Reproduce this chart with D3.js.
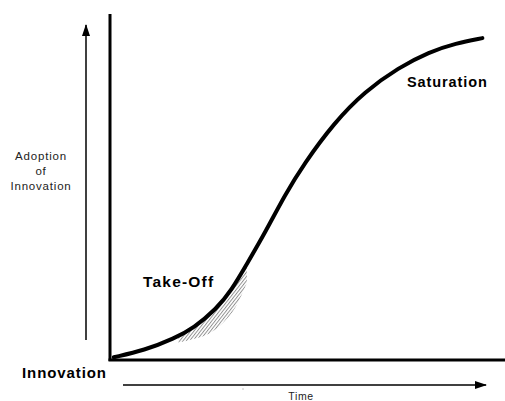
<!DOCTYPE html>
<html>
<head>
<meta charset="utf-8">
<script src="https://cdn.jsdelivr.net/npm/d3@7"></script>
<style>
  html, body { margin: 0; padding: 0; background: #fff; }
  svg { display: block; }
  text { font-family: "Liberation Sans", Arial, sans-serif; }
</style>
</head>
<body>
<div id="chart"></div>
<script>
// S-curve of innovation adoption
const time = [1, 9, 17, 22, 28, 32, 36, 41, 46, 51, 59, 67, 76, 84, 91, 98]
const adoption = [0.5, 2.5, 6, 9, 14.5, 20, 27.5, 37, 47.5, 56.5, 68.5, 77.5, 84.5, 89, 91.5, 93]

// hatched take-off region under the curve
const hatchTime = [18, 22, 26, 30, 33, 36]
const hatchTop = [6.5, 9, 12.8, 17.5, 21.5, 27.5]
const hatchBottom = [4.8, 5.8, 7.3, 10.8, 15, 22]

const width = 505
const height = 401

const svg = d3.select('#chart')
  .append('svg')
  .attr('width', width)
  .attr('height', height)

const x = d3.scaleLinear().domain([0, 100]).range([110, 490])
const y = d3.scaleLinear().domain([0, 100]).range([359, 14])

const defs = svg.append('defs')
defs.append('pattern')
  .attr('id', 'hatch')
  .attr('patternUnits', 'userSpaceOnUse')
  .attr('width', 2.6)
  .attr('height', 3)
  .attr('patternTransform', 'rotate(38)')
  .append('line')
  .attr('x1', 0.5).attr('y1', 0)
  .attr('x2', 0.5).attr('y2', 3)
  .attr('stroke', '#888')
  .attr('stroke-width', 0.9)

defs.append('marker')
  .attr('id', 'head')
  .attr('viewBox', '0 0 12 8')
  .attr('refX', 11)
  .attr('refY', 4)
  .attr('markerUnits', 'userSpaceOnUse')
  .attr('markerWidth', 12)
  .attr('markerHeight', 8)
  .attr('orient', 'auto')
  .append('path')
  .attr('d', 'M0,0 L12,4 L0,8 Z')
  .attr('fill', '#000')

// hatch
const hatchData = hatchTime.map((t, i) => ({ t, top: hatchTop[i], bottom: hatchBottom[i] }))
svg.append('path')
  .datum(hatchData)
  .attr('fill', 'url(#hatch)')
  .attr('d', d3.area()
    .x(d => x(d.t))
    .y0(d => y(d.bottom))
    .y1(d => y(d.top))
    .curve(d3.curveMonotoneX))

// axes (no ticks)
svg.append('line')
  .attr('x1', x(0)).attr('x2', x(0))
  .attr('y1', y(100)).attr('y2', y(0) + 2)
  .attr('stroke', '#000').attr('stroke-width', 3)

svg.append('line')
  .attr('x1', x(0) - 1.5).attr('x2', width)
  .attr('y1', y(0) + 1).attr('y2', y(0) + 1)
  .attr('stroke', '#000').attr('stroke-width', 3)

// curve
const curve = time.map((t, i) => [t, adoption[i]])
svg.append('path')
  .datum(curve)
  .attr('fill', 'none')
  .attr('stroke', '#000')
  .attr('stroke-width', 4)
  .attr('stroke-linecap', 'round')
  .attr('d', d3.line()
    .x(d => x(d[0]))
    .y(d => y(d[1]))
    .curve(d3.curveBasis))

// adoption arrow (left)
svg.append('line')
  .attr('x1', 86).attr('x2', 86)
  .attr('y1', 340).attr('y2', 25)
  .attr('stroke', '#000').attr('stroke-width', 1.5)
  .attr('marker-end', 'url(#head)')

// time arrow (bottom)
svg.append('line')
  .attr('x1', 123).attr('x2', 486)
  .attr('y1', 385).attr('y2', 385)
  .attr('stroke', '#000').attr('stroke-width', 1.5)
  .attr('marker-end', 'url(#head)')

svg.append('rect')
  .attr('x', 242.5).attr('y', 388.5)
  .attr('width', 1).attr('height', 1)
  .attr('fill', '#888')

// labels
const adoptLabel = svg.append('text')
  .attr('text-anchor', 'middle')
  .attr('font-size', 11.5)
  .attr('letter-spacing', 0.8)
  .attr('fill', '#222')
;['Adoption', 'of', 'Innovation'].forEach((s, i) => {
  adoptLabel.append('tspan')
    .attr('x', 41)
    .attr('y', 160 + i * 15)
    .text(s)
})

svg.append('text')
  .attr('x', 22).attr('y', 378)
  .attr('font-size', 15)
  .attr('font-weight', 'bold')
  .attr('letter-spacing', 0.9)
  .text('Innovation')

svg.append('text')
  .attr('x', 143).attr('y', 287)
  .attr('font-size', 15.5)
  .attr('font-weight', 'bold')
  .attr('letter-spacing', 1.2)
  .text('Take-Off')

svg.append('text')
  .attr('x', 407).attr('y', 87)
  .attr('font-size', 14.5)
  .attr('font-weight', 'bold')
  .attr('letter-spacing', 0.9)
  .text('Saturation')

svg.append('text')
  .attr('x', 301).attr('y', 400)
  .attr('text-anchor', 'middle')
  .attr('font-size', 10.5)
  .attr('letter-spacing', 0.6)
  .attr('fill', '#222')
  .text('Time')
</script>
</body>
</html>
